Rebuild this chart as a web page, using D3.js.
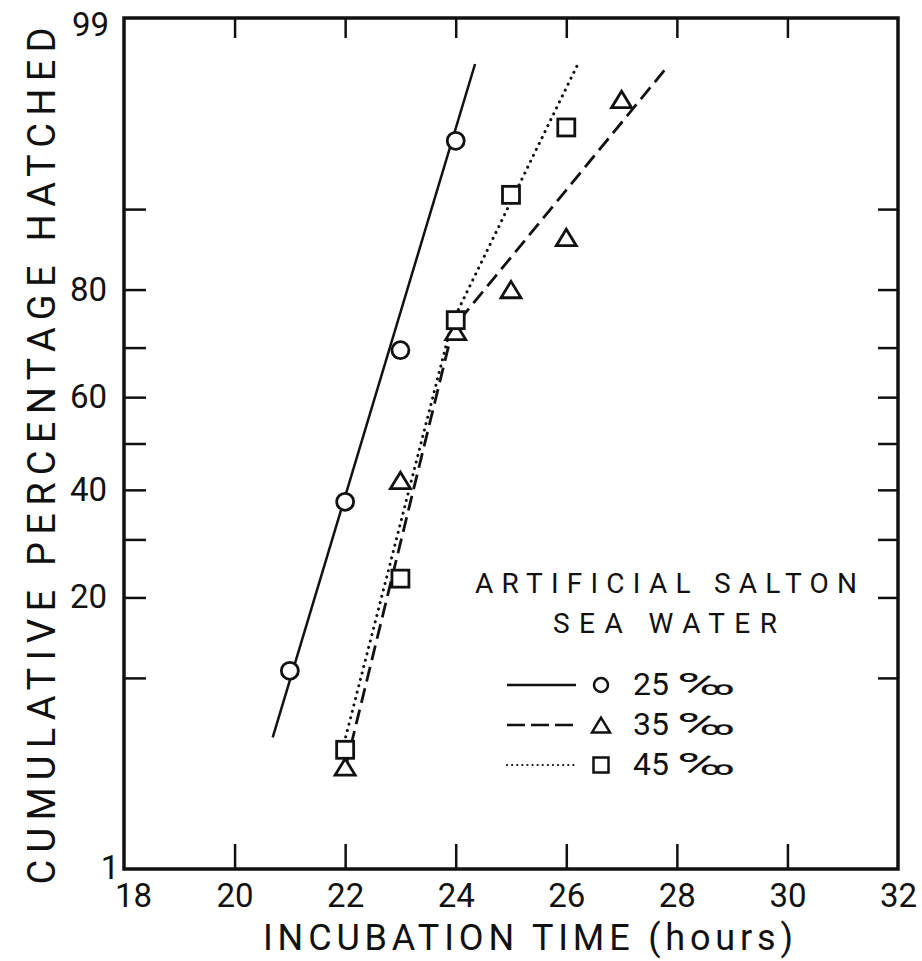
<!DOCTYPE html>
<html>
<head>
<meta charset="utf-8">
<script src="https://cdn.jsdelivr.net/npm/d3@7"></script>
<style>
  html, body { margin: 0; padding: 0; background: #fff; }
  svg { display: block; }
  text { font-family: Roboto, "DejaVu Sans", sans-serif; fill: #111; }
</style>
</head>
<body>
<svg id="chart" width="922" height="961"></svg>
<script>
// ---------- data ----------
const xTickLabels = [18, 20, 22, 24, 26, 28, 30, 32];
const xTickMarks = [20, 22, 24, 26, 28, 30];
const yTickMarks = [10, 20, 30, 40, 50, 60, 70, 80, 90];
const yTickLabels = [20, 40, 60, 80];
const yEndLabels = [1, 99];

// observed points: incubation time (hours) vs cumulative % hatched
const hours25 = [21, 22, 23, 24];
const pct25   = [10.7, 37.5, 69.5, 95.1];
const hours35 = [22, 23, 24, 25, 26, 27];
const pct35   = [3.85, 42, 73, 80, 87, 97];
const hours45 = [22, 23, 24, 25, 26];
const pct45   = [4.7, 23, 75, 91.3, 95.8];

// fitted lines drawn in the figure
const fit25Hours = [20.69, 24.35];
const fit25Pct   = [5.4, 98.1];
const fit35Hours = [22.01, 23.95, 27.84];
const fit35Pct   = [3.85, 73.6, 98.05];
const fit45Hours = [22.01, 23.93, 26.21];
const fit45Pct   = [5.43, 74.5, 98.1];

const legendTitle = ["ARTIFICIAL SALTON", "SEA WATER"];
const legendLabels = ["25", "35", "45"];
const xTitle = "INCUBATION TIME (hours)";
const yTitle = "CUMULATIVE PERCENTAGE HATCHED";

// ---------- probability (probit) scale ----------
function probit(p) {
  const a = [-3.969683028665376e+01, 2.209460984245205e+02, -2.759285104469687e+02, 1.383577518672690e+02, -3.066479806614716e+01, 2.506628277459239e+00];
  const b = [-5.447609879822406e+01, 1.615858368580409e+02, -1.556989798598866e+02, 6.680131188771972e+01, -1.328068155288572e+01];
  const c = [-7.784894002430293e-03, -3.223964580411365e-01, -2.400758277161838e+00, -2.549732539343734e+00, 4.374664141464968e+00, 2.938163982698783e+00];
  const d = [7.784695709041462e-03, 3.224671290700398e-01, 2.445134137142996e+00, 3.754408661907416e+00];
  const pl = 0.02425, ph = 1 - pl;
  let q, r;
  if (p < pl) {
    q = Math.sqrt(-2 * Math.log(p));
    return (((((c[0]*q+c[1])*q+c[2])*q+c[3])*q+c[4])*q+c[5]) / ((((d[0]*q+d[1])*q+d[2])*q+d[3])*q+1);
  } else if (p <= ph) {
    q = p - 0.5; r = q*q;
    return (((((a[0]*r+a[1])*r+a[2])*r+a[3])*r+a[4])*r+a[5])*q / (((((b[0]*r+b[1])*r+b[2])*r+b[3])*r+b[4])*r+1);
  } else {
    q = Math.sqrt(-2 * Math.log(1 - p));
    return -(((((c[0]*q+c[1])*q+c[2])*q+c[3])*q+c[4])*q+c[5]) / ((((d[0]*q+d[1])*q+d[2])*q+d[3])*q+1);
  }
}

const L = 124, R = 898, T = 18, B = 869;
const x = d3.scaleLinear().domain([18, 32]).range([L, R]);
const zScale = d3.scaleLinear().domain([probit(0.01), probit(0.99)]).range([B, T]);
function y(p) { return zScale(probit(p / 100)); }
y.domain = () => [1, 99];
y.range = () => zScale.range();
y.copy = () => y;

const svg = d3.select("#chart");

// ---------- frame ----------
svg.append("rect")
  .attr("x", L).attr("y", T).attr("width", R - L).attr("height", B - T)
  .attr("fill", "none").attr("stroke", "#111").attr("stroke-width", 3.5);

function styleAxis(g) {
  g.select(".domain").remove();
  g.selectAll(".tick line").attr("stroke", "#111").attr("stroke-width", 2.5);
  g.attr("font-family", null).attr("font-size", null);
  g.selectAll("text").attr("font-size", 33).attr("fill", "#111");
}

// left axis
svg.append("g").attr("transform", `translate(${L},0)`)
  .call(d3.axisLeft(y).tickValues(yTickMarks).tickSize(-22).tickPadding(17)
    .tickFormat(d => yTickLabels.includes(d) ? d : ""))
  .call(styleAxis);

// right axis
svg.append("g").attr("transform", `translate(${R},0)`)
  .call(d3.axisRight(y).tickValues(yTickMarks).tickSize(-20).tickFormat(""))
  .call(styleAxis);

// end labels 99 and 1
svg.append("text").attr("x", L - 15).attr("y", y(99) + 18)
  .attr("text-anchor", "end").attr("font-size", 33).text(yEndLabels[1]);
svg.append("text").attr("x", L - 14).attr("y", y(1) + 10)
  .attr("text-anchor", "middle").attr("font-size", 33).text(yEndLabels[0]);

// bottom axis ticks
svg.append("g").attr("transform", `translate(0,${B})`)
  .call(d3.axisBottom(x).tickValues(xTickMarks).tickSize(-25).tickFormat(""))
  .call(styleAxis);
// bottom labels
const bl = svg.append("g").attr("transform", `translate(0,${B})`)
  .call(d3.axisBottom(x).tickValues(xTickLabels).tickSize(0).tickPadding(15).tickFormat(d => d))
  .call(styleAxis);
bl.selectAll(".tick").filter(d => d === 18).select("text").attr("dx", 9);
// top axis ticks
svg.append("g").attr("transform", `translate(0,${T})`)
  .call(d3.axisTop(x).tickValues(xTickMarks).tickSize(-20).tickFormat(""))
  .call(styleAxis);

// ---------- titles ----------
svg.append("text").attr("x", 263).attr("y", 950)
  .attr("font-size", 36).attr("textLength", 530).attr("lengthAdjust", "spacing")
  .text(xTitle);
svg.append("text").attr("transform", "translate(55,456) rotate(-90)")
  .attr("text-anchor", "middle")
  .attr("font-size", 38).attr("textLength", 857).attr("lengthAdjust", "spacing")
  .text(yTitle);

// ---------- fitted lines ----------
const line = d3.line().x(d => x(d[0])).y(d => y(d[1]));
const series = [
  { hours: hours25, pct: pct25, fh: fit25Hours, fp: fit25Pct, dash: null, cap: "butt", w: 2.5, sym: "circle", label: legendLabels[0] },
  { hours: hours35, pct: pct35, fh: fit35Hours, fp: fit35Pct, dash: "15,7", cap: "butt", w: 2.8, sym: "triangle", label: legendLabels[1] },
  { hours: hours45, pct: pct45, fh: fit45Hours, fp: fit45Pct, dash: "0.1,6.5", cap: "round", w: 3, sym: "square", label: legendLabels[2] }
];

series.forEach(s => {
  svg.append("path")
    .datum(d3.zip(s.fh, s.fp))
    .attr("d", line)
    .attr("fill", "none").attr("stroke", "#111")
    .attr("stroke-width", s.w)
    .attr("stroke-linecap", s.cap)
    .attr("stroke-dasharray", s.dash);
});

// ---------- markers ----------
function marker(g, type, cx, cy, size) {
  if (type === "circle") {
    g.append("circle").attr("cx", cx).attr("cy", cy).attr("r", size / 2);
  } else if (type === "square") {
    g.append("rect").attr("x", cx - size / 2).attr("y", cy - size / 2)
      .attr("width", size).attr("height", size);
  } else {
    const h = size * 0.82;
    g.append("path").attr("d",
      `M${cx},${cy - h / 2}L${cx + size / 2},${cy + h / 2}L${cx - size / 2},${cy + h / 2}Z`);
  }
}
const markerSize = { circle: 17, triangle: 20, square: 17 };
series.forEach(s => {
  const g = svg.append("g").attr("fill", "#fff").attr("stroke", "#111")
    .attr("stroke-width", 2.8).attr("stroke-linejoin", "miter");
  d3.zip(s.hours, s.pct).forEach(([h, p]) => marker(g, s.sym, x(h), y(p), markerSize[s.sym]));
});

// ---------- legend ----------
svg.append("text").attr("x", 475).attr("y", 593).attr("font-size", 28)
  .attr("textLength", 382).attr("lengthAdjust", "spacing").text(legendTitle[0]);
svg.append("text").attr("x", 553).attr("y", 633).attr("font-size", 28)
  .attr("textLength", 224).attr("lengthAdjust", "spacing").text(legendTitle[1]);

const rowY = [685, 725, 765];
const legendSize = { circle: 14, triangle: 18, square: 15 };
series.forEach((s, i) => {
  const yy = rowY[i];
  svg.append("line").attr("x1", 507).attr("x2", 576).attr("y1", yy).attr("y2", yy)
    .attr("stroke", "#111").attr("stroke-width", s.sym === "square" ? 2.2 : 2.5)
    .attr("stroke-linecap", s.cap)
    .attr("stroke-dasharray", s.sym === "triangle" ? "18,6" : (s.sym === "square" ? "0.1,5" : null));
  const g = svg.append("g").attr("fill", "#fff").attr("stroke", "#111").attr("stroke-width", 2.5);
  marker(g, s.sym, 601, yy, legendSize[s.sym]);
  const t = svg.append("text").attr("x", 633).attr("y", yy + 10).attr("font-size", 32);
  t.append("tspan").text(s.label);
  t.append("tspan").text(" ");
  t.append("tspan").attr("x", 678).attr("textLength", 57).attr("lengthAdjust", "spacingAndGlyphs").text("‰");
});
</script>
</body>
</html>
